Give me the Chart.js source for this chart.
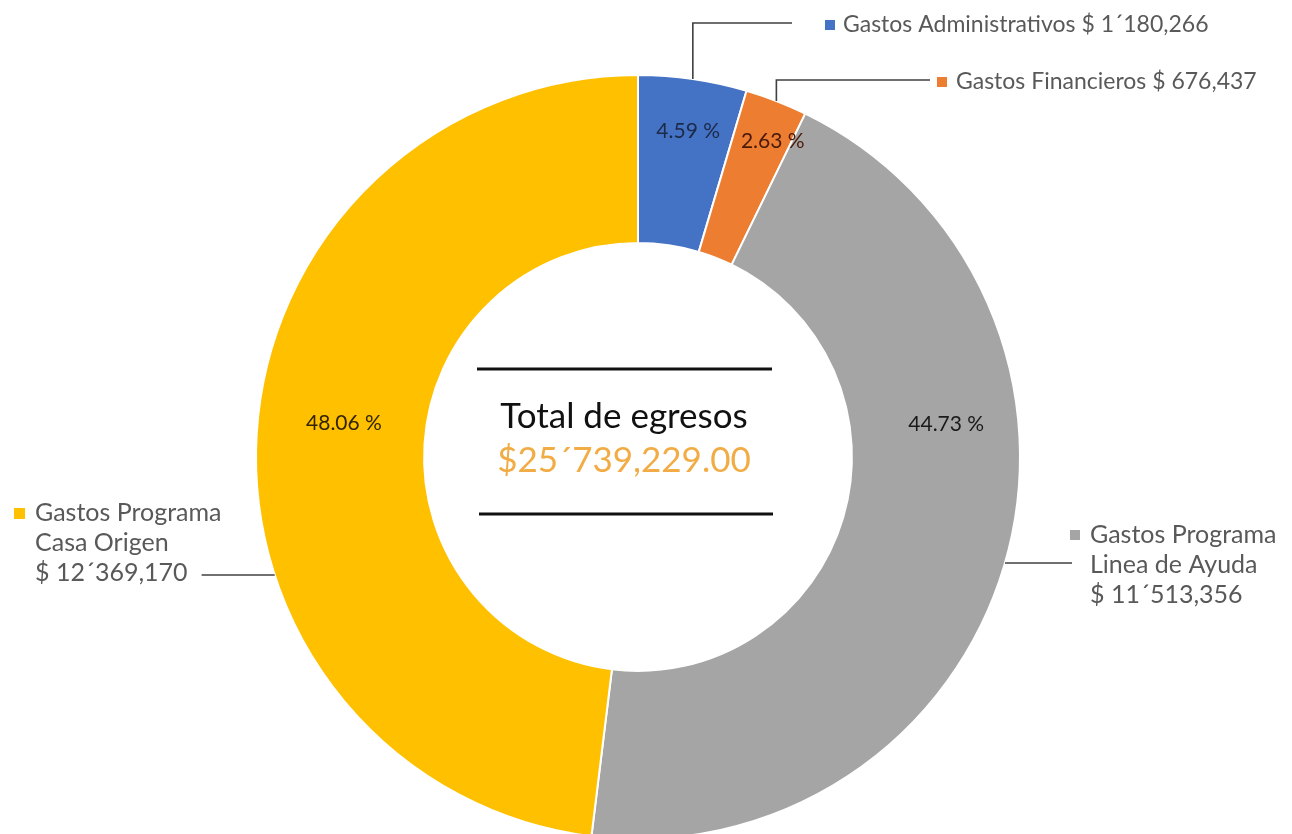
<!DOCTYPE html>
<html>
<head>
<meta charset="utf-8">
<script src="https://cdn.jsdelivr.net/npm/chart.js@4"></script>
<style>
  html, body { margin: 0; padding: 0; background: #fff; overflow: hidden; }
  #wrap { position: relative; width: 1292px; height: 900px; }
</style>
</head>
<body>
<div id="wrap"><canvas id="egresosChart"></canvas></div>
<script>
// ===================== DATA =====================
const categories = ["Gastos Administrativos", "Gastos Financieros", "Gastos Programa Linea de Ayuda", "Gastos Programa Casa Origen"];
const amounts = [1180266, 676437, 11513356, 12369170];
const amountLabels = ["$ 1´180,266", "$ 676,437", "$ 11´513,356", "$ 12´369,170"];
const percentLabels = ["4.59 %", "2.63 %", "44.73 %", "48.06 %"];
const totalTitle = "Total de egresos";
const totalLabel = "$25´739,229.00";
const sliceColors = ["#4472C4", "#ED7D31", "#A5A5A5", "#FFC000"];

// legend text blocks next to each slice
const legendLines = [
    ["Gastos Administrativos " + amountLabels[0]],
    ["Gastos Financieros " + amountLabels[1]],
    ["Gastos Programa", "Linea de Ayuda", amountLabels[2]],
    ["Gastos Programa", "Casa Origen", amountLabels[3]]
];

const FONT = "Lato, 'Open Sans', sans-serif";

// ===================== LABELS PLUGIN =====================
const calloutPlugin = {
    id: "callouts",
    afterDraw(chart, args, opts) {
        const ctx = chart.ctx;
        const arcs = chart.getDatasetMeta(0).data;
        if (!arcs.length) return;
        const cx = arcs[0].x, cy = arcs[0].y;
        const R = arcs[0].outerRadius;

        ctx.save();

        // percentages inside the ring
        ctx.font = "21px " + FONT;
        ctx.textAlign = "center";
        ctx.textBaseline = "middle";
        arcs.forEach((arc, i) => {
            const n = opts.pctNudge[i];
            const mid = (arc.startAngle + arc.endAngle) / 2 + n.da * Math.PI / 180;
            ctx.fillStyle = opts.pctColors[i];
            ctx.fillText(percentLabels[i], cx + n.r * Math.cos(mid), cy + n.r * Math.sin(mid));
        });

        // legend blocks + leader lines
        ctx.strokeStyle = "#404040";
        ctx.lineWidth = 1.6;
        ctx.textAlign = "left";
        arcs.forEach((arc, i) => {
            const L = opts.blocks[i];
            const mid = (arc.startAngle + arc.endAngle) / 2;
            ctx.font = L.size + "px " + FONT;
            ctx.beginPath();
            if (L.leader === "top") {
                const ax = cx + R * Math.cos(mid);
                const ay = cy + R * Math.sin(mid);
                ctx.moveTo(ax, ay);
                ctx.lineTo(ax, L.lineY);
                ctx.lineTo(L.lineEnd, L.lineY);
            } else {
                const dy = L.lineY - cy;
                const dx = Math.sqrt(Math.max(R * R - dy * dy, 0));
                const ax = L.leader === "right" ? cx + dx : cx - dx;
                let end = L.lineEnd;
                if (L.leader === "left") {
                    // keep the leader clear of the last text line
                    const last = legendLines[i][legendLines[i].length - 1];
                    end = Math.max(end, L.x + ctx.measureText(last).width + 14);
                }
                ctx.moveTo(ax, L.lineY);
                ctx.lineTo(end, L.lineY);
            }
            ctx.stroke();

            ctx.fillStyle = sliceColors[i];
            ctx.fillRect(L.sq[0], L.sq[1], L.sq[2], L.sq[2]);

            ctx.fillStyle = "#595959";
            legendLines[i].forEach((t, k) => {
                ctx.fillText(t, L.x, L.y + k * L.lh);
            });
        });

        // centre text
        ctx.textAlign = "center";
        ctx.font = "35px " + FONT;
        ctx.fillStyle = "#111";
        ctx.fillText(totalTitle, 624, 417);
        ctx.fillStyle = "#F2AC45";
        ctx.fillText(totalLabel, 624, 461);

        ctx.strokeStyle = "#111";
        ctx.lineWidth = 3;
        ctx.beginPath();
        ctx.moveTo(477, 369); ctx.lineTo(772, 369);
        ctx.moveTo(479, 514); ctx.lineTo(773, 514);
        ctx.stroke();

        ctx.restore();
    }
};

// ===================== DOUGHNUT =====================
new Chart(document.getElementById("egresosChart"), {
    type: "doughnut",
    data: {
        labels: categories,
        datasets: [{
            data: amounts,
            backgroundColor: sliceColors,
            borderColor: "#fff",
            borderWidth: 2
        }]
    },
    options: {
        responsive: true,
        maintainAspectRatio: false,
        animation: false,
        cutout: "56%",
        layout: { padding: { top: 74, bottom: 60, left: 255, right: 271 } },
        plugins: {
            legend: { display: false },
            tooltip: { enabled: false },
            callouts: {
                pctColors: ["#1c2a48", "#4a1a08", "#1a1a1a", "#332400"],
                pctNudge: [
                    { da: 0.5, r: 330 },
                    { da: 1.9, r: 343 },
                    { da: -22.6, r: 310 },
                    { da: 3.1, r: 296 }
                ],
                blocks: [
                    { leader: "top", lineY: 23, lineEnd: 792, sq: [825, 20, 10], x: 843, y: 25, lh: 0, size: 23 },
                    { leader: "top", lineY: 80, lineEnd: 930, sq: [937, 77, 10], x: 956, y: 82, lh: 0, size: 23 },
                    { leader: "right", lineY: 563, lineEnd: 1072, sq: [1070, 530, 10], x: 1090, y: 535, lh: 30, size: 25 },
                    { leader: "left", lineY: 575, lineEnd: 188, sq: [14, 508, 11], x: 35, y: 513, lh: 30, size: 25 }
                ]
            }
        }
    },
    plugins: [calloutPlugin]
});
</script>
</body>
</html>
